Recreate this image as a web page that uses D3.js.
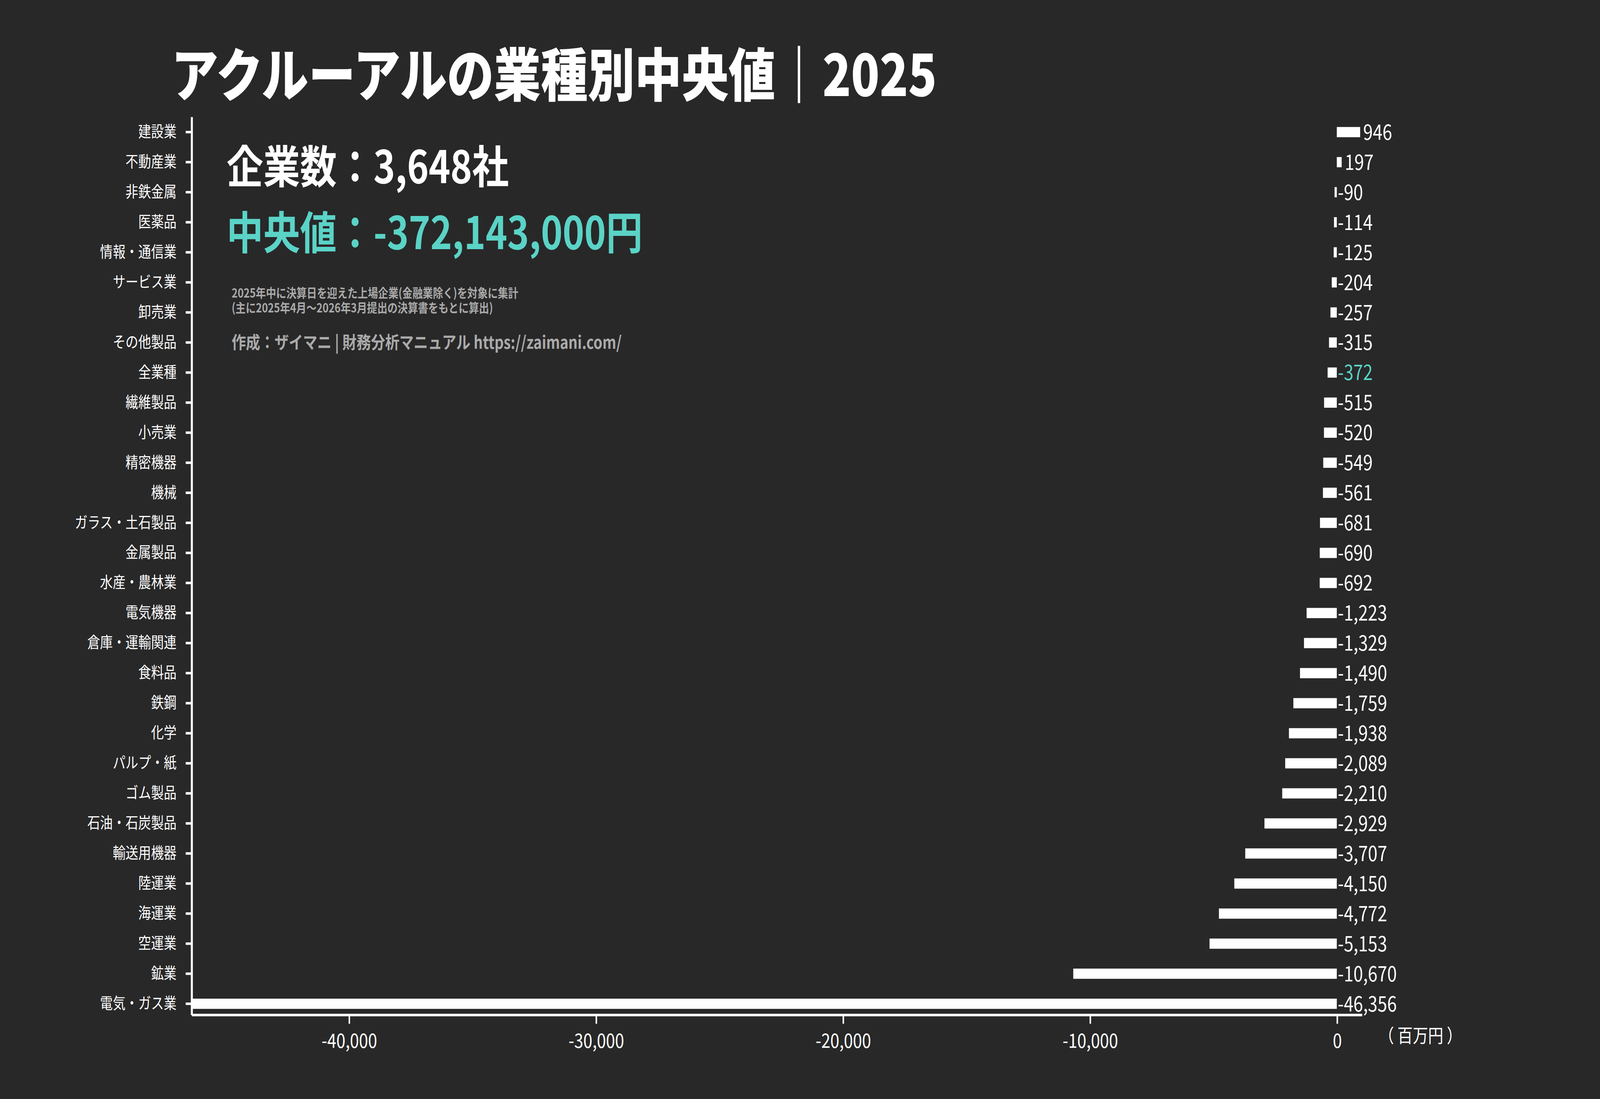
<!DOCTYPE html>
<html><head><meta charset="utf-8">
<script src="https://cdn.jsdelivr.net/npm/d3@7"></script>
<style>html,body{margin:0;padding:0;background:#282828;overflow:hidden;width:100%;height:100%;}svg{display:block;}</style>
</head><body>
<script>
const categories = ["建設業","不動産業","非鉄金属","医薬品","情報・通信業","サービス業","卸売業","その他製品","全業種","繊維製品","小売業","精密機器","機械","ガラス・土石製品","金属製品","水産・農林業","電気機器","倉庫・運輸関連","食料品","鉄鋼","化学","パルプ・紙","ゴム製品","石油・石炭製品","輸送用機器","陸運業","海運業","空運業","鉱業","電気・ガス業"];
const values = [946,197,-90,-114,-125,-204,-257,-315,-372,-515,-520,-549,-561,-681,-690,-692,-1223,-1329,-1490,-1759,-1938,-2089,-2210,-2929,-3707,-4150,-4772,-5153,-10670,-46356];
const xTicks = [-40000,-30000,-20000,-10000,0];
const highlight = "全業種";

const W=1568,H=882.4;
const svg=d3.select("body").append("svg").attr("width","100vw").attr("height","100vh")
 .attr("viewBox",`0 0 ${W} ${H}`).attr("preserveAspectRatio","none").style("background","#282828");
const font="'Noto Sans CJK JP','Noto Sans',sans-serif";
const fmt=d=>d3.format(",")(d).replace("−","-");
const x=d3.scaleLinear().domain([-46356,1030]).range([188,1335]);
const y=d3.scaleBand().domain(categories).range([94,818]).paddingInner(0.66).paddingOuter(0.33);

svg.append("text").attr("x",168).attr("y",77).attr("fill","#fff").attr("font-family",font)
 .attr("font-weight",900).attr("font-size",46).text("アクルーアルの業種別中央値｜2025");

svg.selectAll("rect.bar").data(values).join("rect").attr("class","bar")
 .attr("x",d=>x(Math.min(0,d))).attr("width",d=>Math.abs(x(d)-x(0)))
 .attr("y",(d,i)=>y(categories[i])).attr("height",y.bandwidth()).attr("fill","#fff");

svg.selectAll("text.val").data(values).join("text").attr("class","val")
 .attr("x",d=>x(Math.max(0,d))+ (d>0?3:1)).attr("y",(d,i)=>y(categories[i])+y.bandwidth()/2)
 .attr("dy","0.36em").attr("font-family",font).attr("font-size",17)
 .attr("fill",(d,i)=>categories[i]===highlight?"#5bd3c7":"#fff")
 .text(fmt);

const ya=svg.append("g").attr("transform","translate(188,0)").call(d3.axisLeft(y).tickSize(6).tickPadding(9));
ya.select(".domain").attr("stroke","#fff").attr("stroke-width",2).attr("d","M0,94V815");
ya.selectAll(".tick line").attr("stroke","#fff").attr("stroke-width",2);
ya.selectAll("text").attr("fill","#fff").attr("font-family",font).attr("font-size",12.5);

const xa=svg.append("g").attr("transform","translate(0,815)").call(d3.axisBottom(x).tickValues(xTicks).tickSize(7).tickPadding(8).tickFormat(fmt));
xa.select(".domain").attr("stroke","#fff").attr("stroke-width",2).attr("d","M188,0H1335");
xa.selectAll(".tick line").attr("stroke","#fff").attr("stroke-width",1.5);
xa.selectAll("text").attr("fill","#fff").attr("font-family",font).attr("font-size",16);
svg.append("text").attr("x",1392).attr("y",837).attr("text-anchor","middle").attr("fill","#fff")
 .attr("font-family",font).attr("font-size",15).text("（ 百万円 ）");

svg.append("text").attr("x",222).attr("y",147).attr("fill","#fff").attr("font-family",font)
 .attr("font-weight",700).attr("font-size",36).text("企業数：3,648社");
svg.append("text").attr("x",222).attr("y",200).attr("fill","#5bd3c7").attr("font-family",font)
 .attr("font-weight",700).attr("font-size",36).text("中央値：-372,143,000円");
svg.append("text").attr("x",227).attr("y",239).attr("fill","#aaa").attr("font-family",font)
 .attr("font-weight",700).attr("font-size",10).text("2025年中に決算日を迎えた上場企業(金融業除く)を対象に集計");
svg.append("text").attr("x",227).attr("y",251).attr("fill","#aaa").attr("font-family",font)
 .attr("font-weight",700).attr("font-size",10).text("(主に2025年4月～2026年3月提出の決算書をもとに算出)");
svg.append("text").attr("x",227).attr("y",280).attr("fill","#aaa").attr("font-family",font)
 .attr("font-weight",700).attr("font-size",14).text("作成：ザイマニ | 財務分析マニュアル https://zaimani.com/");
</script>
</body></html>
